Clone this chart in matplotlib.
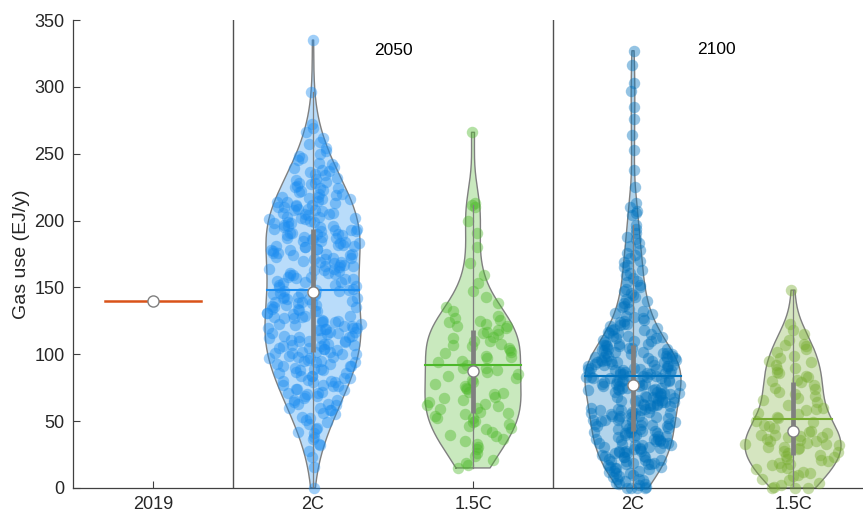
import numpy as np
import matplotlib
matplotlib.use("Agg")
import matplotlib.pyplot as plt

plt.rcParams['font.family'] = ['Liberation Sans', 'DejaVu Sans']

# ---- data -------------------------------------------------------------
categories = ["2019", "2C", "1.5C", "2C", "1.5C"]
period_labels = ["2050", "2100"]

gas_2019 = [140]

gas_2050_2c = [
    0, 16, 23, 28, 32, 33, 37, 38,
    41, 42, 44, 45, 48, 49,
    51, 52, 53, 55, 56, 58, 58, 60,
    60, 62, 63, 63, 64, 66, 66, 67, 69, 69, 70,
    71, 71, 72, 73, 74, 74, 76, 76, 77, 77, 79, 79, 80,
    80, 81, 82, 82, 84, 84, 84, 86, 86, 87, 88, 88, 89, 89, 90,
    91, 91, 91, 93, 93, 94, 94, 95, 95, 96, 97, 97, 98, 98, 99, 100,
    100, 101, 101, 102, 102, 102, 103, 104, 104, 105, 105, 106, 106, 107, 107, 108, 108, 109, 110, 110,
    110, 111, 112, 112, 113, 113, 114, 114, 115, 116, 116, 117, 117, 118, 118, 119, 119, 120, 120,
    120, 121, 121, 122, 123, 123, 124, 124, 125, 125, 126, 127, 127, 128, 128, 129, 129, 130,
    131, 131, 132, 132, 133, 134, 134, 135, 135, 136, 137, 137, 138, 138, 139, 139, 140,
    141, 141, 142, 142, 143, 143, 144, 145, 145, 146, 146, 147, 147, 148, 148, 149, 150,
    151, 152, 152, 153, 154, 154, 155, 156, 156, 157, 158, 158, 159, 159, 160,
    161, 161, 162, 163, 163, 164, 164, 165, 166, 166, 167, 167, 168, 169, 169, 170,
    171, 171, 172, 172, 173, 174, 174, 175, 175, 176, 176, 177, 178, 178, 179, 179, 180,
    180, 181, 181, 182, 182, 183, 183, 184, 185, 185, 186, 186, 187, 187, 188, 188, 189, 189, 190,
    190, 191, 191, 192, 192, 193, 193, 194, 194, 195, 195, 196, 196, 197, 198, 198, 199, 199, 200,
    201, 201, 202, 202, 203, 203, 204, 205, 205, 206, 206, 207, 208, 208, 209, 209, 210, 210,
    211, 212, 212, 213, 214, 214, 215, 216, 216, 217, 218, 218, 219, 220, 220,
    221, 222, 223, 224, 224, 225, 226, 227, 228, 228, 229, 230,
    231, 232, 234, 235, 236, 237, 238, 239, 240,
    242, 243, 245, 247, 248, 250,
    252, 254, 257, 259,
    262, 266, 269,
    272, 296, 335,
]

gas_2050_15c = [
    15, 17, 19,
    21, 24, 26, 29,
    31, 33, 35, 37, 39,
    40, 42, 44, 45, 46, 48, 49,
    50, 52, 52, 54, 55, 56, 57, 59, 60,
    61, 62, 63, 64, 66, 67, 68, 70,
    71, 72, 74, 75, 76, 78, 79,
    81, 82, 84, 85, 87, 88, 90,
    90, 92, 94, 95, 97, 98, 99,
    101, 102, 103, 105, 106, 107, 108, 110,
    110, 112, 113, 115, 116, 117, 118, 120,
    121, 121, 123, 124, 125, 126, 127, 129,
    132, 135, 138,
    143, 147,
    153, 159,
    168,
    180, 191,
    200, 210, 212, 213,
    266,
]

gas_2100_2c = [
    0, 0, 0, 0, 1, 2, 3, 3, 4, 5, 6, 7, 7, 8, 9,
    10, 11, 11, 12, 13, 13, 14, 15, 15, 16, 16, 17, 18, 18, 18, 19, 19,
    20, 20, 21, 21, 22, 23, 23, 23, 24, 24, 25, 26, 26, 27, 27, 28, 28, 28, 29, 29,
    30, 30, 31, 31, 32, 32, 32, 33, 34, 34, 34, 35, 35, 36, 36, 37, 37, 37, 38, 38, 39, 39,
    40, 40, 41, 41, 42, 42, 42, 43, 43, 44, 44, 45, 45, 45, 46, 46, 47, 47, 47, 48, 48, 49, 49,
    50, 50, 51, 51, 51, 52, 52, 53, 53, 54, 54, 54, 55, 55, 56, 56, 56, 57, 57, 58, 58, 58, 59, 59,
    60, 60, 61, 61, 62, 62, 62, 63, 63, 64, 64, 64, 65, 65, 66, 66, 66, 67, 67, 68, 68, 68, 69, 69,
    70, 70, 71, 71, 71, 72, 72, 73, 73, 73, 74, 74, 75, 75, 75, 76, 76, 76, 77, 77, 78, 78, 78, 79, 79, 79,
    80, 80, 80, 81, 81, 81, 82, 82, 82, 83, 83, 83, 84, 84, 84, 85, 85, 85, 86, 86, 86, 87, 87, 87, 88, 88, 88, 89, 89, 89,
    90, 90, 90, 91, 91, 91, 92, 92, 92, 93, 93, 94, 94, 94, 95, 95, 95, 96, 96, 96, 97, 97, 97, 98, 98, 99, 99, 99,
    100, 100, 101, 101, 101, 102, 102, 103, 103, 104, 104, 105, 105, 106, 106, 107, 107, 108, 108, 109,
    110, 110, 111, 112, 112, 113, 114, 114, 115, 116, 116, 117, 118, 118, 119,
    120, 121, 122, 123, 123, 124, 125, 126, 127, 128, 129,
    130, 131, 132, 134, 135, 136, 138, 139,
    140, 141, 143, 144, 146, 147, 149,
    150, 152, 154, 155, 157, 159,
    161, 163, 165, 167, 169,
    170, 172, 174, 176, 178,
    181, 183, 186, 188,
    191, 194, 197,
    204, 206, 207, 210, 213,
    225, 238, 253, 264, 276, 285, 297, 303, 316, 327,
]

gas_2100_15c = [
    0, 0, 0, 1, 2, 4, 6, 7, 9,
    10, 11, 12, 14, 15, 16, 17, 18, 19,
    20, 21, 22, 23, 24, 25, 26, 27, 28, 29,
    30, 31, 31, 32, 33, 33, 34, 35, 35, 36, 37, 38, 38, 39,
    40, 40, 41, 42, 43, 45, 46, 47, 49,
    50, 52, 53, 55, 56, 58, 59,
    60, 62, 64, 66, 67, 69,
    70, 72, 74, 75, 77, 79,
    80, 81, 83, 84, 86, 87, 89,
    90, 92, 94, 95, 97, 99,
    102, 104, 106, 107, 108,
    111, 115, 118,
    123,
    148,
]

group_colors = ["#D95319", "#1A8CF0", "#4DB82A", "#0072BD", "#77AC30"]

# ---- helpers ----------------------------------------------------------
GRAY = "#7f7f7f"


def gaussian_kde(data, grid, bw):
    d = (grid[:, None] - data[None, :]) / bw
    return np.exp(-0.5 * d ** 2).sum(axis=1) / (len(data) * bw * np.sqrt(2 * np.pi))


def spread(n, k):
    # deterministic horizontal spread in [-1, 1] for the scatter dots
    i = np.arange(n) + 1.0
    h = np.sin(i * 12.9898 + k * 78.233) * 43758.5453
    return 2.0 * (h - np.floor(h)) - 1.0


def violin(ax, pos, values, color, k, width=0.3, bw_scale=0.9):
    data = np.asarray(values, float)
    mad = np.median(np.abs(data - np.median(data)))
    bw = bw_scale * (mad / 0.6745) * (4.0 / (3.0 * len(data))) ** 0.2
    grid = np.linspace(data.min(), data.max(), 300)
    dens = gaussian_kde(data, grid, bw)
    half = dens / dens.max() * width

    ax.fill_betweenx(grid, pos - half, pos + half, facecolor=color,
                     alpha=0.3, edgecolor="none", zorder=1)
    ox = np.r_[pos - half, (pos + half)[::-1], pos - half[0]]
    oy = np.r_[grid, grid[::-1], grid[0]]
    ax.plot(ox, oy, color=GRAY, lw=1.0, zorder=2)

    jit = spread(len(data), k) * np.interp(data, grid, half)
    ax.scatter(pos + jit, data, s=68, color=color, alpha=0.42,
               linewidths=0, zorder=3, clip_on=False)

    q1, med, q3 = np.percentile(data, [25, 50, 75])
    iqr = q3 - q1
    lo = data[data >= q1 - 1.5 * iqr].min()
    hi = data[data <= q3 + 1.5 * iqr].max()
    ax.plot([pos, pos], [lo, hi], color=GRAY, lw=0.9, zorder=4)
    ax.plot([pos, pos], [q1, q3], color=GRAY, lw=3.4,
            solid_capstyle="butt", zorder=5)

    mean = data.mean()
    mw = np.interp(mean, grid, half)
    ax.plot([pos - mw, pos + mw], [mean, mean], color=color, lw=1.5, zorder=6)
    ax.plot([pos], [med], "o", ms=8, mfc="white", mec=GRAY, mew=1.0,
            zorder=7, clip_on=False)


# ---- figure -----------------------------------------------------------
fig = plt.figure(figsize=(8.63, 5.16), dpi=100)
ax = fig.add_axes([73 / 863, 28 / 516, 790 / 863, 468 / 516])

positions = np.arange(1, len(categories) + 1)

# single 2019 value: mean line and median marker only
v2019 = np.asarray(gas_2019, float)
ax.plot([positions[0] - 0.3, positions[0] + 0.3], [v2019.mean()] * 2,
        color=group_colors[0], lw=1.8, zorder=6)
ax.plot([positions[0]], [np.median(v2019)], "o", ms=8, mfc="white",
        mec=GRAY, mew=1.0, zorder=7)

series = [gas_2050_2c, gas_2050_15c, gas_2100_2c, gas_2100_15c]
for k, (pos, vals, col) in enumerate(zip(positions[1:], series, group_colors[1:])):
    violin(ax, pos, vals, col, k + 1)

# period separators and labels
for xs in (1.5, 3.5):
    ax.axvline(xs, color="#505050", lw=1.0, zorder=0)
ax.text(2.5, 327, period_labels[0], ha="center", va="center", fontsize=12.5, color="black")
ax.text(4.52, 328, period_labels[1], ha="center", va="center", fontsize=12.5, color="black")

ax.set_xlim(0.5, 5.4375)
ax.set_ylim(0, 350)
ax.set_xticks(positions)
ax.set_xticklabels(categories)
ax.set_yticks(np.arange(0, 351, 50))
ax.set_ylabel("Gas use (EJ/y)", fontsize=14, color="#262626", labelpad=3)

for side in ("top", "right"):
    ax.spines[side].set_visible(False)
for side in ("left", "bottom"):
    ax.spines[side].set_color("#404040")
    ax.spines[side].set_linewidth(0.9)
ax.tick_params(direction="in", length=5, width=0.8, colors="#404040",
               labelcolor="#262626", labelsize=13, pad=6)

fig.savefig("out.png", dpi=100)
